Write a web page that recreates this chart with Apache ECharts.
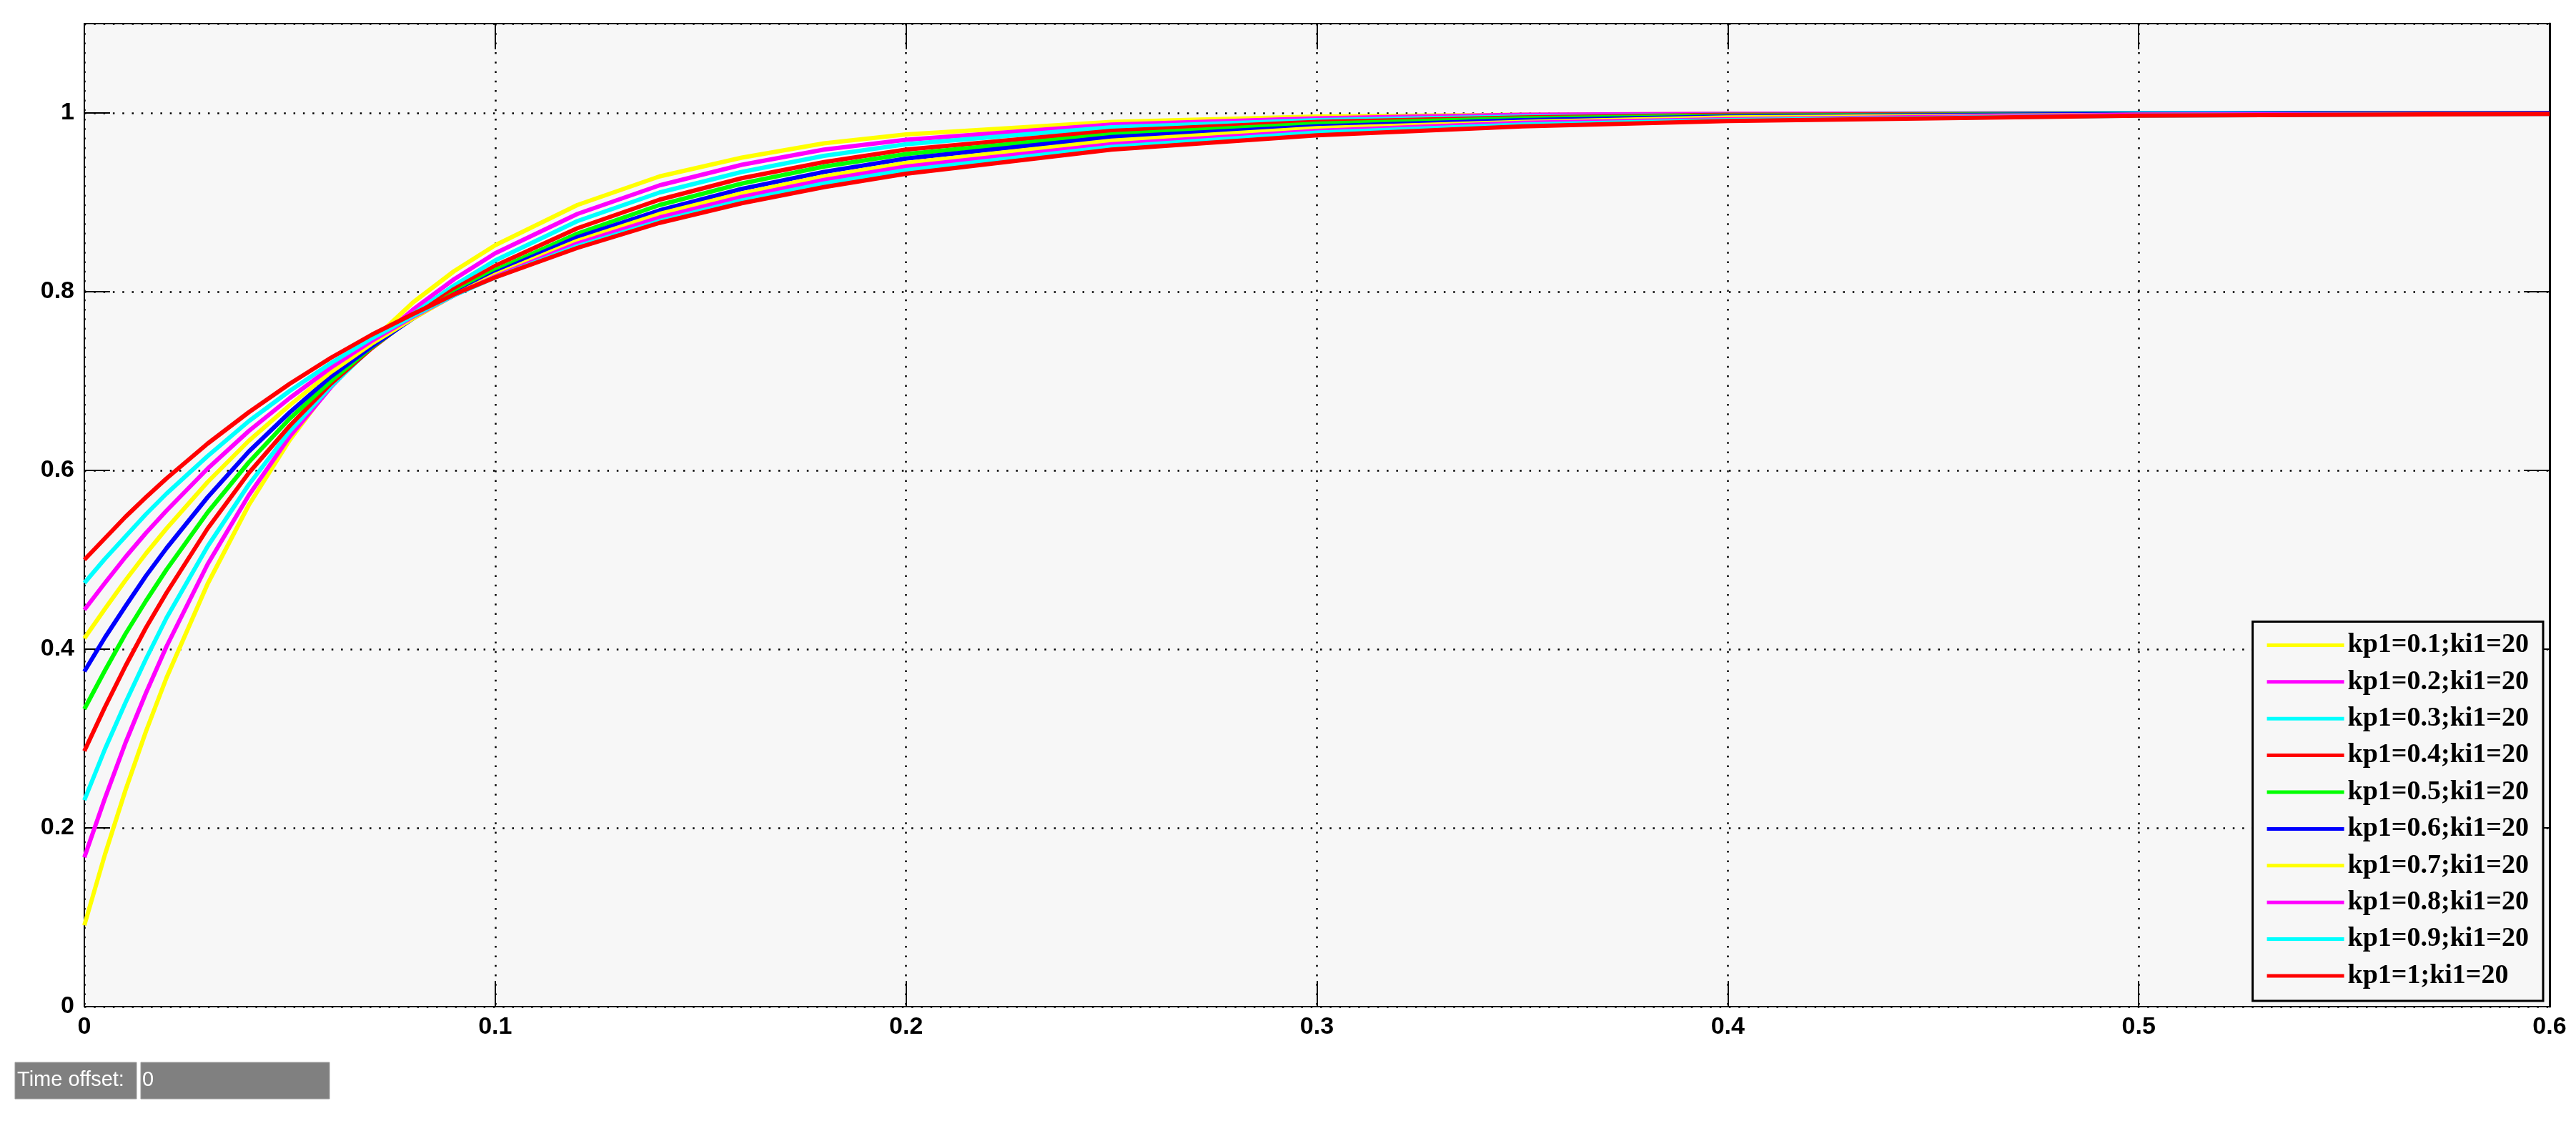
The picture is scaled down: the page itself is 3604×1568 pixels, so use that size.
<!DOCTYPE html>
<html>
<head>
<meta charset="utf-8">
<title>kp1 step response</title>
<script src="https://cdn.jsdelivr.net/npm/echarts@6/dist/echarts.min.js"></script>
<style>
  html, body { margin: 0; padding: 0; background: #ffffff; }
  #main { width: 3604px; height: 1568px; }
</style>
</head>
<body>
<div id="main"></div>
<script>
// sample times (s)
var timeS = [0, 0.005, 0.01, 0.015, 0.02, 0.03, 0.04, 0.05, 0.06, 0.07, 0.08, 0.09, 0.1, 0.12, 0.14, 0.16, 0.18, 0.2, 0.25, 0.3, 0.35, 0.4, 0.5, 0.6]

// responses, one array per kp1 value
var kp01 = [0.091, 0.170, 0.242, 0.308, 0.368, 0.473, 0.561, 0.634, 0.695, 0.745, 0.788, 0.823, 0.852, 0.897, 0.929, 0.950, 0.966, 0.976, 0.990, 0.996, 0.998, 0.999, 1.000, 1.000]
var kp02 = [0.167, 0.233, 0.295, 0.351, 0.403, 0.495, 0.572, 0.638, 0.693, 0.741, 0.780, 0.814, 0.843, 0.887, 0.919, 0.942, 0.959, 0.970, 0.987, 0.994, 0.998, 0.999, 1.000, 1.000]
var kp03 = [0.231, 0.288, 0.340, 0.389, 0.435, 0.515, 0.584, 0.644, 0.694, 0.738, 0.775, 0.807, 0.835, 0.879, 0.911, 0.934, 0.952, 0.965, 0.984, 0.992, 0.996, 0.998, 1.000, 1.000]
var kp04 = [0.286, 0.335, 0.381, 0.424, 0.463, 0.535, 0.597, 0.650, 0.697, 0.737, 0.772, 0.803, 0.829, 0.871, 0.903, 0.927, 0.945, 0.959, 0.980, 0.990, 0.995, 0.998, 0.999, 1.000]
var kp05 = [0.333, 0.376, 0.417, 0.454, 0.489, 0.553, 0.609, 0.658, 0.700, 0.738, 0.771, 0.799, 0.824, 0.865, 0.897, 0.921, 0.940, 0.954, 0.976, 0.988, 0.994, 0.997, 0.999, 1.000]
var kp06 = [0.375, 0.413, 0.448, 0.482, 0.513, 0.570, 0.621, 0.665, 0.705, 0.739, 0.770, 0.797, 0.821, 0.861, 0.891, 0.915, 0.934, 0.949, 0.973, 0.985, 0.992, 0.996, 0.999, 1.000]
var kp07 = [0.412, 0.445, 0.477, 0.507, 0.535, 0.587, 0.633, 0.673, 0.710, 0.742, 0.770, 0.796, 0.819, 0.857, 0.887, 0.910, 0.929, 0.944, 0.969, 0.983, 0.990, 0.995, 0.998, 0.999]
var kp08 = [0.444, 0.474, 0.503, 0.530, 0.555, 0.602, 0.644, 0.681, 0.715, 0.745, 0.772, 0.796, 0.817, 0.854, 0.883, 0.906, 0.925, 0.940, 0.965, 0.980, 0.989, 0.993, 0.998, 0.999]
var kp09 = [0.474, 0.501, 0.526, 0.551, 0.574, 0.616, 0.655, 0.689, 0.720, 0.748, 0.773, 0.796, 0.816, 0.851, 0.879, 0.902, 0.921, 0.936, 0.962, 0.978, 0.987, 0.992, 0.997, 0.999]
var kp10 = [0.500, 0.524, 0.548, 0.570, 0.591, 0.630, 0.665, 0.697, 0.726, 0.752, 0.775, 0.797, 0.816, 0.849, 0.877, 0.899, 0.917, 0.932, 0.959, 0.975, 0.985, 0.991, 0.997, 0.999]

var seriesNames = [
  'kp1=0.1;ki1=20', 'kp1=0.2;ki1=20', 'kp1=0.3;ki1=20', 'kp1=0.4;ki1=20', 'kp1=0.5;ki1=20',
  'kp1=0.6;ki1=20', 'kp1=0.7;ki1=20', 'kp1=0.8;ki1=20', 'kp1=0.9;ki1=20', 'kp1=1;ki1=20'
]
var seriesValues = [kp01, kp02, kp03, kp04, kp05, kp06, kp07, kp08, kp09, kp10]
var seriesColors = ['#ffff00', '#ff00ff', '#00ffff', '#ff0000', '#00ff00', '#0000ff', '#ffff00', '#ff00ff', '#00ffff', '#ff0000']

var xTicks = { min: 0, max: 0.6, interval: 0.1 }
var yTicks = { min: 0, max: 1.1, interval: 0.2 }

var labelFont = {
  color: '#000',
  fontFamily: 'Liberation Sans',
  fontWeight: 'bold',
  fontSize: 34
}

var myChart = echarts.init(document.getElementById('main'), null, { renderer: 'canvas' })

var series = seriesNames.map(function (name, i) {
  return {
    name: name,
    type: 'line',
    xAxisIndex: 0,
    yAxisIndex: 0,
    symbol: 'none',
    showSymbol: false,
    smooth: false,
    lineStyle: { color: seriesColors[i], width: 6, join: 'round' },
    itemStyle: { color: seriesColors[i] },
    data: timeS.map(function (t, k) { return [t, seriesValues[i][k]] })
  }
})

var option = {
  animation: false,
  backgroundColor: '#ffffff',
  grid: {
    left: 118,
    right: 37,
    top: 33,
    bottom: 160,
    show: true,
    backgroundColor: '#f7f7f7',
    borderWidth: 0
  },
  legend: {
    orient: 'vertical',
    right: 46,
    bottom: 168,
    backgroundColor: '#f7f7f7',
    borderColor: '#000',
    borderWidth: 3,
    padding: [13, 20, 15, 20],
    itemWidth: 108,
    itemHeight: 5,
    itemGap: 11.4,
    icon: 'rect',
    itemStyle: { borderWidth: 0 },
    selectedMode: false,
    textStyle: {
      color: '#000',
      fontFamily: 'Liberation Serif',
      fontWeight: 'bold',
      fontSize: 38,
      lineHeight: 40
    },
    data: seriesNames
  },
  xAxis: [{
    type: 'value',
    position: 'bottom',
    min: xTicks.min,
    max: xTicks.max,
    interval: xTicks.interval,
    axisLine: { show: true, onZero: false, lineStyle: { color: '#000', width: 2 } },
    axisTick: { show: true, inside: true, length: 36, lineStyle: { color: '#000', width: 2 } },
    axisLabel: Object.assign({ margin: 12 }, labelFont),
    splitLine: { show: true, lineStyle: { color: '#000', width: 2.5, type: [2.5, 10.8] } }
  }, {
    type: 'value',
    position: 'top',
    min: xTicks.min,
    max: xTicks.max,
    interval: xTicks.interval,
    axisLine: { show: true, onZero: false, lineStyle: { color: '#000', width: 2 } },
    axisTick: { show: true, inside: true, length: 36, lineStyle: { color: '#000', width: 2 } },
    axisLabel: { show: false },
    splitLine: { show: false }
  }],
  yAxis: [{
    type: 'value',
    position: 'left',
    min: yTicks.min,
    max: yTicks.max,
    interval: yTicks.interval,
    axisLine: { show: true, onZero: false, lineStyle: { color: '#000', width: 2 } },
    axisTick: { show: true, inside: true, length: 36, lineStyle: { color: '#000', width: 2 } },
    axisLabel: Object.assign({ margin: 14, showMaxLabel: false }, labelFont),
    splitLine: { show: true, lineStyle: { color: '#000', width: 2.5, type: [2.5, 10.8] } }
  }, {
    type: 'value',
    position: 'right',
    min: yTicks.min,
    max: yTicks.max,
    interval: yTicks.interval,
    axisLine: { show: true, onZero: false, lineStyle: { color: '#000', width: 3 } },
    axisTick: { show: true, inside: true, length: 36, lineStyle: { color: '#000', width: 2 } },
    axisLabel: { show: false },
    splitLine: { show: false }
  }],
  graphic: [
    // scope "Time offset" field under the plot
    { type: 'rect', shape: { x: 21, y: 1486, width: 170, height: 51 }, style: { fill: '#808080', stroke: '#9a9a9a', lineWidth: 1 } },
    { type: 'rect', shape: { x: 197, y: 1486, width: 264, height: 51 }, style: { fill: '#808080', stroke: '#9a9a9a', lineWidth: 1 } },
    { type: 'text', x: 24, y: 1511, style: { text: 'Time offset:', fill: '#ffffff', font: '29px "Liberation Sans"', verticalAlign: 'middle' } },
    { type: 'text', x: 199, y: 1511, style: { text: '0', fill: '#ffffff', font: '29px "Liberation Sans"', verticalAlign: 'middle' } }
  ],
  series: series
}

myChart.setOption(option)
</script>
</body>
</html>
